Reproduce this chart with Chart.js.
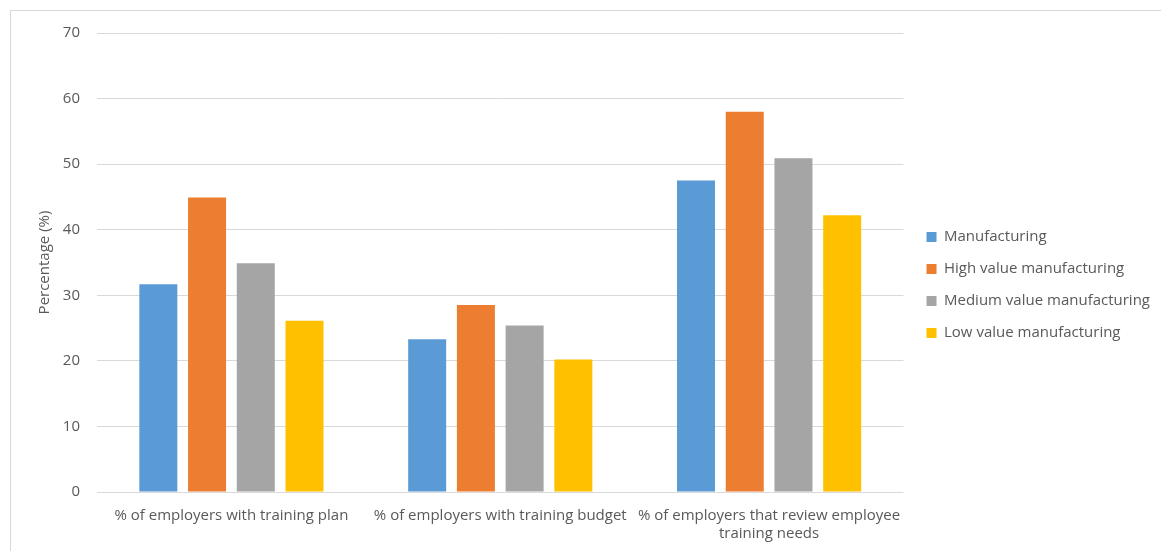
<!DOCTYPE html>
<html>
<head>
<meta charset="utf-8">
<script src="https://cdn.jsdelivr.net/npm/chart.js@4/dist/chart.umd.min.js"></script>
<style>
  html, body { margin: 0; padding: 0; background: #fff; overflow: hidden; }
  #frame { position: absolute; left: 10px; top: 10px; width: 1160px; height: 550px; border: 1px solid #d9d9d9; box-sizing: border-box; }
  #wrap { position: absolute; left: 10px; top: 7px; width: 1151px; height: 544px; }
</style>
</head>
<body>
<div id="frame"></div>
<div id="wrap"><canvas id="chart"></canvas></div>
<script>
// --- data ---
const categories = [
  '% of employers with training plan',
  '% of employers with training budget',
  ['% of employers that review employee', 'training needs']
];
const seriesNames = ['Manufacturing', 'High value manufacturing', 'Medium value manufacturing', 'Low value manufacturing'];
const manufacturing = [31.7, 23.3, 47.5];
const highValue = [44.9, 28.5, 58.0];
const mediumValue = [34.9, 25.4, 50.9];
const lowValue = [26.1, 20.2, 42.2];
const yTicks = [0, 10, 20, 30, 40, 50, 60, 70];

const colors = ['#5B9BD5', '#ED7D31', '#A5A5A5', '#FFC000'];
const textColor = '#595959';
const fontFamily = "'Open Sans', 'Liberation Sans', sans-serif";

// nudge the legend column up and right a little, like the reference
const legendShift = {
  id: 'legendShift',
  afterLayout(chart) {
    const lg = chart.legend;
    lg.bottom -= 8;
    lg.height -= 8;
    lg.left += 6;
    lg.right += 6;
  }
};

const ctx = document.getElementById('chart').getContext('2d');
new Chart(ctx, {
  type: 'bar',
  data: {
    labels: categories,
    datasets: [manufacturing, highValue, mediumValue, lowValue].map((data, i) => ({
      label: seriesNames[i],
      data,
      backgroundColor: colors[i],
      borderWidth: 0,
      categoryPercentage: 0.725,
      barPercentage: 0.78
    }))
  },
  options: {
    responsive: true,
    maintainAspectRatio: false,
    animation: false,
    layout: { padding: { top: 20, left: 26, right: 7, bottom: 0 } },
    scales: {
      x: {
        grid: { display: false, drawTicks: false },
        border: { display: false },
        ticks: { color: textColor, font: { family: fontFamily, size: 15 }, padding: 15, maxRotation: 0, autoSkip: false },
        afterFit: s => { s.height = 59; }
      },
      y: {
        min: 0, max: 70,
        afterBuildTicks: s => { s.ticks = yTicks.map(v => ({ value: v })); },
        grid: { color: '#d9d9d9', drawTicks: false },
        border: { display: false },
        ticks: { color: textColor, font: { family: fontFamily, size: 15 }, padding: 17 },
        title: { display: true, text: 'Percentage (%)', color: textColor, font: { family: fontFamily, size: 15 }, padding: 0 },
        afterFit: s => { s.width = 61; }
      }
    },
    plugins: {
      legend: {
        position: 'right',
        labels: { color: textColor, font: { family: fontFamily, size: 15 }, boxWidth: 10, boxHeight: 10, padding: 17, useBorderRadius: false }
      },
      tooltip: { enabled: false }
    }
  },
  plugins: [legendShift]
});
</script>
</body>
</html>
